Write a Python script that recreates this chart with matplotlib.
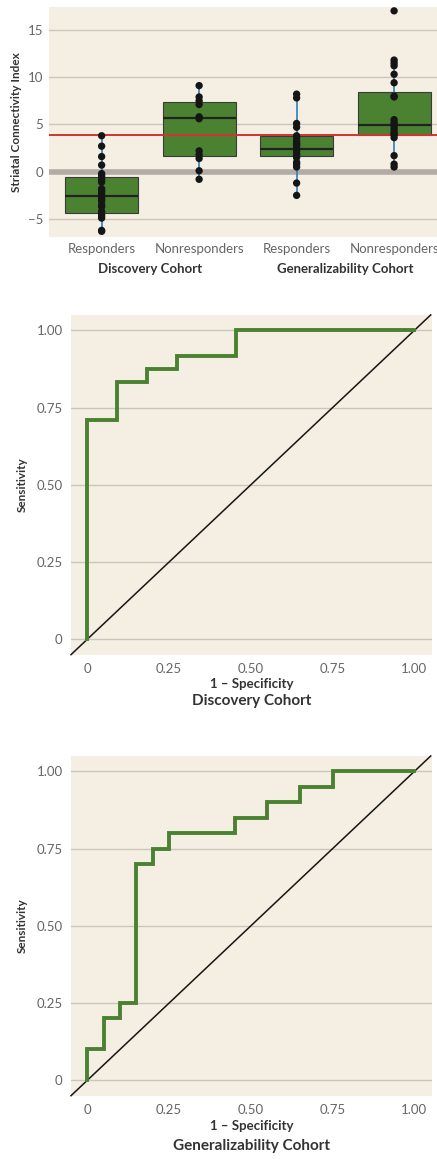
import matplotlib
matplotlib.use("Agg")
import matplotlib.pyplot as plt
import numpy as np

plt.rcParams['font.family'] = ['Lato', 'DejaVu Sans']

# ---------------- data ----------------
groups = ["Responders", "Nonresponders", "Responders", "Nonresponders"]
cohorts = ["Discovery Cohort", "Generalizability Cohort"]

disc_resp = [3.8, 2.7, 1.6, 0.7, -0.2, -0.4, -0.6, -0.9, -1.1, -1.8, -2.0, -2.2,
             -2.5, -2.7, -2.9, -3.1, -3.5, -3.7, -4.2, -4.5, -4.7, -4.9, -6.2, -6.3]
disc_nonresp = [9.1, 7.9, 7.5, 7.1, 5.8, 5.6, 2.2, 1.8, 1.4, 0.1, -0.8]
gen_resp = [8.2, 7.8, 5.1, 4.7, 3.8, 3.6, 3.3, 3.0, 2.9, 2.7, 2.4, 2.2, 1.9, 1.7,
            1.5, 1.0, 0.8, 0.5, -1.2, -2.5]
gen_nonresp = [17.0, 11.8, 11.5, 11.2, 10.3, 9.4, 8.0, 7.9, 5.5, 5.2, 5.0, 4.8,
               4.5, 4.2, 4.0, 3.9, 3.6, 1.7, 0.8, 0.5]

box_q1 = [-4.36, 1.65, 1.62, 3.87]
box_med = [-2.6, 5.63, 2.36, 4.96]
box_q3 = [-0.56, 7.36, 3.73, 8.45]
box_whislo = [-6.3, -0.8, -2.5, 0.5]
box_whishi = [3.8, 9.1, 8.2, 11.8]

threshold = 3.83

roc1_fpr = [0, 0, 0.0909, 0.0909, 0.1818, 0.1818, 0.2727, 0.2727, 0.4545, 0.4545, 1.0]
roc1_tpr = [0, 0.7083, 0.7083, 0.8333, 0.8333, 0.875, 0.875, 0.9167, 0.9167, 1.0, 1.0]

roc2_fpr = [0, 0, 0.05, 0.05, 0.10, 0.10, 0.15, 0.15, 0.20, 0.20, 0.25, 0.25, 0.45,
            0.45, 0.55, 0.55, 0.65, 0.65, 0.75, 0.75, 1.0]
roc2_tpr = [0, 0.10, 0.10, 0.20, 0.20, 0.25, 0.25, 0.70, 0.70, 0.75, 0.75, 0.80, 0.80,
            0.85, 0.85, 0.90, 0.90, 0.95, 0.95, 1.0, 1.0]

roc_ticks = [0, 0.25, 0.50, 0.75, 1.00]
roc_ticklabels = ["0", "0.25", "0.50", "0.75", "1.00"]

# ---------------- style ----------------
BG = "#f5efe3"
GREEN = "#4a8232"
GRID = "#cdc5bb"
TICKC = "#666666"
LABC = "#333333"

fig = plt.figure(figsize=(4.37, 11.59), dpi=100)

# ---------------- box plot ----------------
ax = fig.add_axes([0.1121, 0.7955, 0.8879, 0.1984])
ax.set_facecolor(BG)
positions = np.arange(4)
stats = []
for i in range(4):
    stats.append(dict(q1=box_q1[i], med=box_med[i], q3=box_q3[i],
                      whislo=box_whislo[i], whishi=box_whishi[i], fliers=[]))
for y in [-5, 5, 10, 15]:
    ax.axhline(y, color=GRID, lw=1.0, zorder=0)
ax.axhline(0, color="#b3aca6", lw=4, zorder=1)
ax.bxp(stats, positions=positions, widths=0.75, patch_artist=True, showcaps=False,
       boxprops=dict(facecolor=GREEN, edgecolor="#3a3a3a", lw=0.8),
       medianprops=dict(color="#222222", lw=1.6),
       whiskerprops=dict(color="#2a7fc0", lw=1.2), zorder=2)
ax.axhline(threshold, color="#d03434", lw=1.4, zorder=3)
for i, vals in enumerate([disc_resp, disc_nonresp, gen_resp, gen_nonresp]):
    ax.scatter(np.full(len(vals), positions[i]), vals, s=28, color="#151515",
               zorder=4, edgecolors="none")
ax.set_xlim(-0.54, 3.44)
ax.set_ylim(-6.9, 17.4)
ax.set_yticks([-5, 0, 5, 10, 15])
ax.set_yticklabels(["\u22125", "0", "5", "10", "15"])
ax.set_xticks(positions)
ax.set_xticklabels(groups)
ax.tick_params(axis='both', length=0, colors=TICKC, labelsize=9.5)
ax.tick_params(axis='x', pad=4)
ax.tick_params(axis='y', pad=4)
for s in ax.spines.values():
    s.set_visible(False)
ax.set_ylabel("Striatal Connectivity Index", fontsize=8.5, fontweight='bold',
              color=LABC, labelpad=4)
for k, c in enumerate(cohorts):
    ax.text(0.5 + 2 * k, -0.14, c, transform=ax.get_xaxis_transform(),
            ha='center', va='center', fontsize=9.5, fontweight='bold', color=LABC)

# ---------------- ROC plots ----------------
def roc_panel(rect, fpr, tpr, title, title_y, xpad):
    a = fig.add_axes(rect)
    a.set_facecolor(BG)
    for y in roc_ticks:
        a.axhline(y, color=GRID, lw=1.0, zorder=0)
    a.plot([-0.05, 1.05], [-0.05, 1.05], color="#151515", lw=1.1, zorder=2,
           clip_on=False)
    a.plot(fpr, tpr, color=GREEN, lw=2.8, zorder=3, solid_joinstyle='miter')
    a.set_xlim(-0.05, 1.053)
    a.set_ylim(-0.051, 1.05)
    a.set_xticks(roc_ticks)
    a.set_xticklabels(roc_ticklabels)
    a.set_yticks(roc_ticks)
    a.set_yticklabels(roc_ticklabels)
    a.tick_params(axis='both', length=0, colors=TICKC, labelsize=9.5)
    a.tick_params(axis='x', pad=6)
    a.tick_params(axis='y', pad=6)
    for s in a.spines.values():
        s.set_visible(False)
    a.set_ylabel("Sensitivity", fontsize=8.5, fontweight='bold', color=LABC, labelpad=6)
    a.set_xlabel("1 \u2013 Specificity", fontsize=9.5, fontweight='bold', color=LABC,
                 labelpad=xpad)
    a.text(0.5, title_y, title, transform=a.transAxes, ha='center', va='center',
           fontsize=11, fontweight='bold', color=LABC)
    return a

roc_panel([0.1625, 0.4349, 0.8254, 0.2934], roc1_fpr, roc1_tpr, cohorts[0], -0.135, 2)
roc_panel([0.1625, 0.05436, 0.8254, 0.2934], roc2_fpr, roc2_tpr, cohorts[1], -0.148, 3)

fig.savefig("out.png", dpi=100, facecolor="white")
